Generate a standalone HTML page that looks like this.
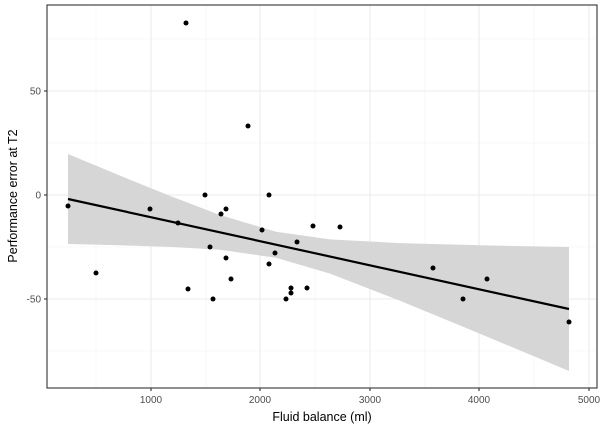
<!DOCTYPE html>
<html><head><meta charset="utf-8"><style>body{margin:0;background:#fff}svg{display:block}</style></head>
<body>
<svg width="600" height="429" viewBox="0 0 600 429" xmlns="http://www.w3.org/2000/svg" font-family="Liberation Sans, sans-serif">
<rect x="0" y="0" width="600" height="429" fill="#fff"/>
<g stroke="#f2f2f2" stroke-width="0.6">
<line x1="47" x2="597" y1="351" y2="351"/><line x1="47" x2="597" y1="247" y2="247"/><line x1="47" x2="597" y1="143" y2="143"/><line x1="47" x2="597" y1="39" y2="39"/>
<line x1="96" x2="96" y1="5" y2="388"/><line x1="206" x2="206" y1="5" y2="388"/><line x1="315" x2="315" y1="5" y2="388"/><line x1="425" x2="425" y1="5" y2="388"/><line x1="534" x2="534" y1="5" y2="388"/>
</g>
<g stroke="#ebebeb" stroke-width="1.1">
<line x1="47" x2="597" y1="299" y2="299"/><line x1="47" x2="597" y1="195" y2="195"/><line x1="47" x2="597" y1="91" y2="91"/>
<line x1="151" x2="151" y1="5" y2="388"/><line x1="260" x2="260" y1="5" y2="388"/><line x1="370" x2="370" y1="5" y2="388"/><line x1="479" x2="479" y1="5" y2="388"/><line x1="589" x2="589" y1="5" y2="388"/>
</g>
<polygon fill="#d6d6d6" points="68,154 120,175.6 170,195.9 220,215 276,231.7 330,239.4 400,243.1 480,245.3 569,247 569,371 480,333.7 400,300.7 330,273.6 276,257.7 220,249.8 170,246.9 120,245.2 68,244"/>
<g fill="#000">
<circle cx="68" cy="206" r="2.5"/><circle cx="96" cy="273" r="2.5"/><circle cx="150" cy="209" r="2.5"/><circle cx="178" cy="223" r="2.5"/><circle cx="186" cy="23" r="2.5"/><circle cx="188" cy="289" r="2.5"/><circle cx="205" cy="195" r="2.5"/><circle cx="210" cy="247" r="2.5"/><circle cx="213" cy="299" r="2.5"/><circle cx="221" cy="214" r="2.5"/><circle cx="226" cy="209" r="2.5"/><circle cx="226" cy="258" r="2.5"/><circle cx="231" cy="279" r="2.5"/><circle cx="248" cy="126" r="2.5"/><circle cx="262" cy="230" r="2.5"/><circle cx="269" cy="195" r="2.5"/><circle cx="269" cy="264" r="2.5"/><circle cx="275" cy="253" r="2.5"/><circle cx="286" cy="299" r="2.5"/><circle cx="291" cy="288" r="2.5"/><circle cx="291" cy="293" r="2.5"/><circle cx="297" cy="242" r="2.5"/><circle cx="307" cy="288" r="2.5"/><circle cx="313" cy="226" r="2.5"/><circle cx="340" cy="227" r="2.5"/><circle cx="433" cy="268" r="2.5"/><circle cx="463" cy="299" r="2.5"/><circle cx="487" cy="279" r="2.5"/><circle cx="569" cy="322" r="2.5"/>
</g>
<line x1="68" y1="199" x2="569" y2="309" stroke="#000" stroke-width="2.2"/>
<rect x="47" y="5" width="550" height="383" fill="none" stroke="#333" stroke-width="1.1"/>
<g stroke="#333" stroke-width="1.1">
<line x1="44" x2="47" y1="299" y2="299"/><line x1="44" x2="47" y1="195" y2="195"/><line x1="44" x2="47" y1="91" y2="91"/>
<line x1="151" x2="151" y1="388" y2="391"/><line x1="260" x2="260" y1="388" y2="391"/><line x1="370" x2="370" y1="388" y2="391"/><line x1="479" x2="479" y1="388" y2="391"/><line x1="589" x2="589" y1="388" y2="391"/>
</g>
<g fill="#4d4d4d" font-size="10" text-anchor="end">
<text x="41" y="302.5">-50</text><text x="41" y="198.5">0</text><text x="41" y="94.5">50</text>
</g>
<g fill="#4d4d4d" font-size="10" text-anchor="middle">
<text x="151" y="403">1000</text><text x="260" y="403">2000</text><text x="370" y="403">3000</text><text x="479" y="403">4000</text><text x="589" y="403">5000</text>
</g>
<text x="322" y="421" font-size="12.5" text-anchor="middle" fill="#000">Fluid balance (ml)</text>
<text transform="translate(17,196) rotate(-90)" font-size="12.5" text-anchor="middle" fill="#000">Performance error at T2</text>
</svg>
</body></html>
